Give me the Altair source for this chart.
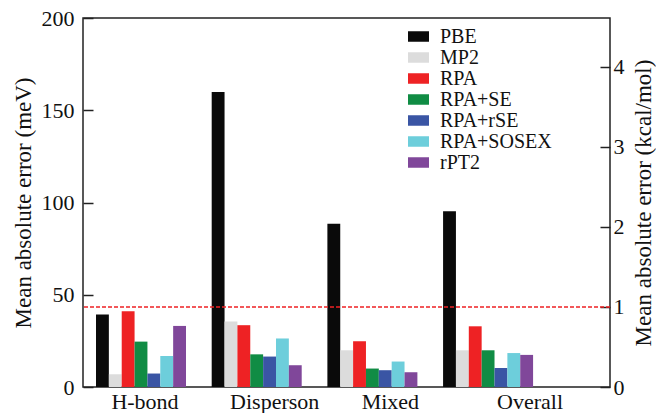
import altair as alt
import pandas as pd

categories = ["H-bond", "Disperson", "Mixed", "Overall"]
methods = ["PBE", "MP2", "RPA", "RPA+SE", "RPA+rSE", "RPA+SOSEX", "rPT2"]
colors = ["#0a0a0a", "#dcdcdc", "#ee2224", "#108c44", "#3a55a4", "#6dcedb", "#80479a"]

pbe = [39.3, 159.9, 88.5, 95.3]
mp2 = [6.9, 35.5, 19.9, 19.9]
rpa = [41.1, 33.5, 24.8, 32.9]
rpa_se = [24.6, 17.7, 10.0, 19.9]
rpa_rse = [7.3, 16.5, 9.1, 10.3]
rpa_sosex = [16.8, 26.3, 13.8, 18.4]
rpt2 = [33.1, 11.8, 8.0, 17.4]

left_ticks = [0, 50, 100, 150, 200]
right_ticks = [0, 1, 2, 3, 4]
threshold_kcal = [1.0]
MEV_PER_KCAL = 43.364

series = [pbe, mp2, rpa, rpa_se, rpa_rse, rpa_sosex, rpt2]
rows = []
for m, vals in zip(methods, series):
    for c, v in zip(categories, vals):
        rows.append({"category": c, "method": m, "mae": v})
df = pd.DataFrame(rows)
thr = pd.DataFrame({"kcal": threshold_kcal})

FONT = "Times New Roman"

label_offset = {
    "condition": [
        {"test": "datum.value == 'H-bond'", "value": 4},
        {"test": "datum.value == 'Overall'", "value": 42},
    ],
    "value": 18,
}

bars = alt.Chart(df).mark_bar(strokeWidth=0).encode(
    x=alt.X(
        "category:N",
        sort=categories,
        scale=alt.Scale(paddingInner=0.222, paddingOuter=0.3886, align=0.1446),
        axis=alt.Axis(
            title=None, labelAngle=0, ticks=False, domain=False,
            labelFontSize=22, labelPadding=4, labelOffset=label_offset,
            labelFont=FONT,
        ),
    ),
    xOffset=alt.XOffset("method:N", sort=methods,
                        scale=alt.Scale(paddingInner=0, paddingOuter=0)),
    y=alt.Y(
        "mae:Q",
        scale=alt.Scale(domain=[0, 200], nice=False, zero=True),
        axis=alt.Axis(
            title="Mean absolute error (meV)", values=left_ticks, grid=False,
            domain=False, offset=-10, tickSize=10, labelPadding=9,
            labelFontSize=22, titleFontSize=23, titleFontWeight="normal",
            titlePadding=6, tickColor="#222", tickWidth=1.5,
            labelFont=FONT, titleFont=FONT,
        ),
    ),
    color=alt.Color(
        "method:N",
        sort=methods,
        scale=alt.Scale(domain=methods, range=colors),
        legend=alt.Legend(
            title=None, orient="none", legendX=325, legendY=8,
            symbolType="M-1,-0.5H1V0.5H-1Z", symbolSize=441,
            symbolStrokeWidth=0, labelFontSize=20, labelOffset=11,
            rowPadding=0, labelFont=FONT,
        ),
    ),
)

rule = alt.Chart(thr).mark_rule(color="#ee2224", strokeDash=[4, 2], strokeWidth=1.5).encode(
    y=alt.Y(
        "kcal:Q",
        scale=alt.Scale(domain=[0, 200 / MEV_PER_KCAL], nice=False, zero=True),
        axis=alt.Axis(
            orient="right", title="Mean absolute error (kcal/mol)",
            values=right_ticks, grid=False, domain=False, offset=-10,
            tickSize=10, labelPadding=3, labelFontSize=22, titleFontSize=23,
            titleFontWeight="normal", titleAngle=270, titleBaseline="top",
            titlePadding=8, tickColor="#222", tickWidth=1.5,
            labelFont=FONT, titleFont=FONT,
        ),
    ),
)

chart = (
    alt.layer(bars, rule)
    .resolve_scale(y="independent")
    .properties(
        width=527, height=369,
        autosize=alt.AutoSizeParams(type="none"),
        padding={"left": 83, "top": 18, "right": 46, "bottom": 26},
    )
    .configure_view(stroke="#222", strokeWidth=1.5)
    .configure_axis(labelColor="#111", titleColor="#111")
    .configure_legend(labelColor="#111")
)

chart.save("out.html", embed_options={"renderer": "svg", "actions": False})
